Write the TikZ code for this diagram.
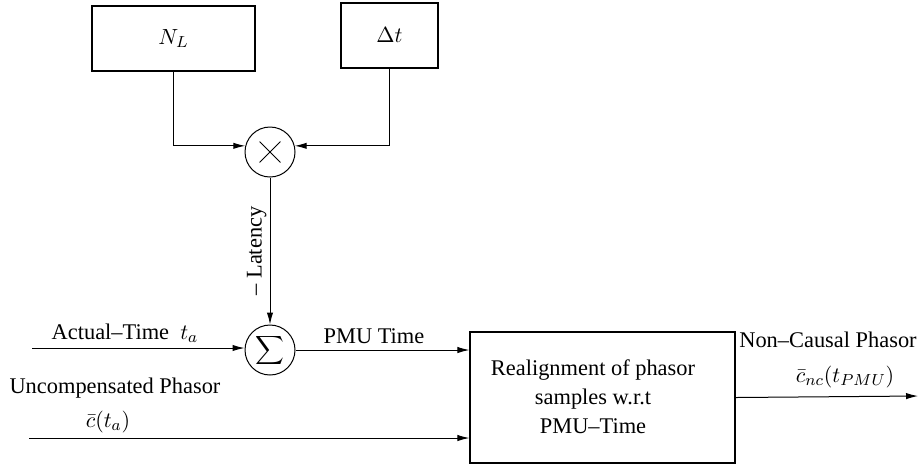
\documentclass[tikz,border=0pt]{standalone}
\usepackage{fontspec}
\setmainfont{Liberation Serif}
\usetikzlibrary{arrows.meta}
\begin{document}
\begin{tikzpicture}[x=0.5pt,y=-0.5pt,
  every node/.style={font=\fontsize{11.2}{13.5}\selectfont},
  thickbox/.style={draw,line width=1.1pt,minimum height=32.5pt,inner sep=0pt},
  opcircle/.style={draw,circle,line width=0.5pt,minimum size=25pt,inner sep=0pt},
  mainbox/.style={draw,line width=0.6pt,minimum width=132.5pt,minimum height=65.5pt,inner sep=0pt},
  conn/.style={line width=0.5pt},
  arr/.style={conn,-{Latex[length=6pt,width=3.2pt]}},
  lbl/.style={inner sep=0pt}]
\useasboundingbox (0,0) rectangle (924,468);
\node[thickbox,minimum width=81.5pt] (NL) at (173.5,38.5) {$N_L$};
\node[thickbox,minimum width=48.5pt] (dt) at (389.5,35.5) {$\Delta t$};
\node[opcircle] (mult) at (270,152) {};
\draw[conn] ([shift={(-5.2pt,-5.2pt)}]mult.center) -- ([shift={(5.2pt,5.2pt)}]mult.center)
            ([shift={(-5.2pt,5.2pt)}]mult.center) -- ([shift={(5.2pt,-5.2pt)}]mult.center);
\node[opcircle] (sum) at (270,350) {$\displaystyle\sum$};
\node[mainbox] (box) at (602.5,397.5) {};
\node[lbl,align=center] (boxtext) at (593,397) {Realignment of phasor\\[1pt]samples w.r.t\\[1pt]PMU–Time};

\coordinate (ain) at (32,348);
\coordinate (uin) at (29,438);
\coordinate (out) at (918,396);

\draw[arr] (NL.south) |- (mult.166);
\draw[arr] (dt.south) |- (mult.14);
\draw[arr] (mult.south) -- node[midway,anchor=south,rotate=90,inner sep=1.5pt] (lat) {– Latency} (sum.north);
\draw[arr] (ain) -- (sum.west |- ain);
\draw[arr] (sum.east) -- (sum.east -| box.west);
\draw[arr] (uin) -- (uin -| box.west);
\draw[arr] (box.east) -- (out);

\node[lbl] (atl) at (125,333) {Actual–Time\ \ $t_a$};
\node[lbl] (pmul) at (374,336) {PMU Time};
\node[lbl] (ucl) at (115,388) {Uncompensated Phasor};
\node[lbl] (ucm) at (108,422) {$\bar c(t_a)$};
\node[lbl] (ncl) at (828,340) {Non–Causal Phasor};
\node[lbl] (ncm) at (845,377) {$\bar c_{nc}(t_{PMU})$};
\end{tikzpicture}
\end{document}
